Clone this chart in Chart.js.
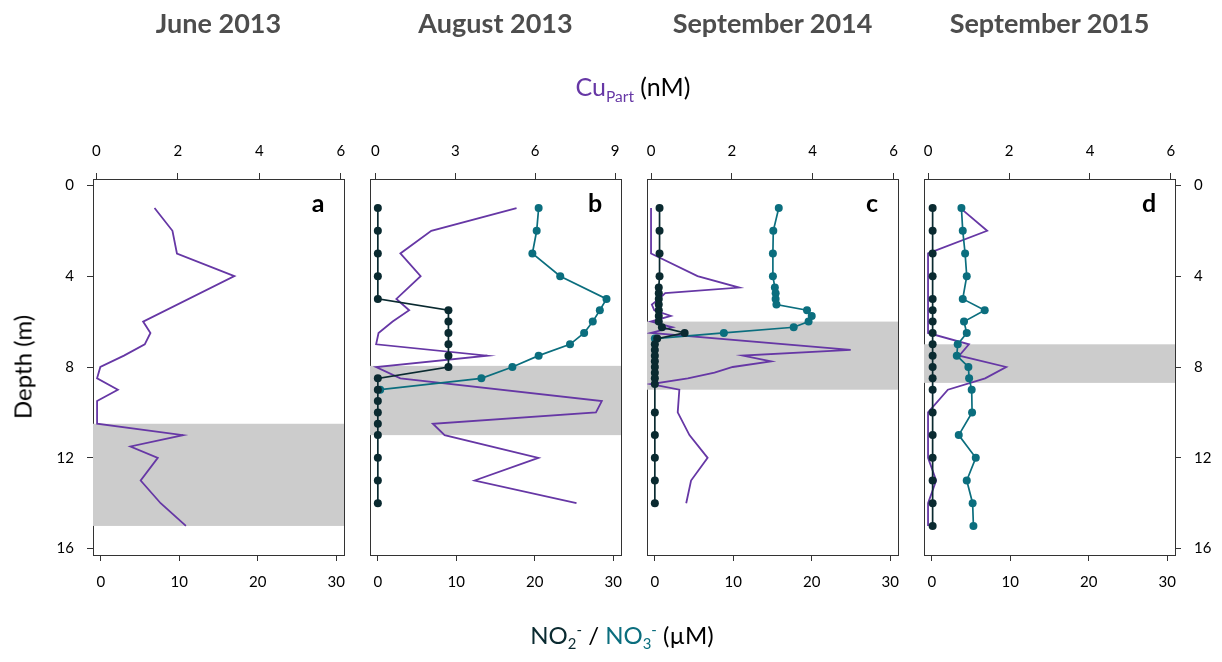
<!DOCTYPE html>
<html>
<head>
<meta charset="utf-8">
<script src="https://cdn.jsdelivr.net/npm/chart.js@4"></script>
<style>
    body { margin: 0; background: #fff; }
    #wrap { position: relative; width: 1222px; height: 662px; overflow: hidden; font-family: Lato, "Open Sans", sans-serif; }
    canvas { position: absolute; top: 0; }
    .lbl { position: absolute; transform: translate(-50%, -50%); white-space: nowrap; color: #000; }
    .title { font-weight: bold; font-size: 27px; color: #4d4d4d; top: 22px; }
    .letter { font-weight: bold; font-size: 25px; top: 202px; }
    .axt { font-size: 24px; }
    .cu { font-size: 25px; }
    .sb { font-size: 62%; vertical-align: -0.35em; }
    .sp { font-size: 62%; vertical-align: 0.6em; }
</style>
</head>
<body>
<div id="wrap"></div>
<script>
// ========================================
// DATA
// ========================================
const panelTitles = ["June 2013", "August 2013", "September 2014", "September 2015"];
const panelLetters = ["a", "b", "c", "d"];

const depthTicks = [0, 4, 8, 12, 16];
const nutrientTicks = [0, 10, 20, 30];
const cuTicks6 = [0, 2, 4, 6];
const cuTicks9 = [0, 3, 6, 9];

// shaded layer (m)
const shadeTop = [10.5, 7.95, 6, 7];
const shadeBottom = [15, 11, 9, 8.7];

// --- a : June 2013 (Cu only)
const cuDepthA = [1, 2, 3, 4, 6, 6.5, 7, 7.5, 8, 8.5, 9, 9.5, 10, 10.5, 11, 11.5, 12, 13, 14, 15];
const cuA = [1.43, 1.87, 1.98, 3.39, 1.15, 1.33, 1.19, 0.68, 0.1, 0.02, 0.53, 0.02, 0.02, 0.02, 2.13, 0.84, 1.51, 1.09, 1.58, 2.2];

// --- b : August 2013
const no2DepthB = [1, 2, 3, 4, 5, 5.5, 6, 6.5, 7, 7.5, 8, 8.5, 9, 9.5, 10, 10.5, 11, 12, 13, 14];
const no2B = [0, 0, 0, 0, 0, 9, 9, 9, 9, 9, 9, 0, 0, 0, 0, 0, 0, 0, 0, 0];
const no3DepthB = [1, 2, 3, 4, 5, 5.5, 6, 6.5, 7, 7.5, 8, 8.5, 9];
const no3B = [20.5, 20.25, 19.7, 23.25, 29.15, 28.3, 27.4, 26.3, 24.5, 20.5, 17.15, 13.2, 0.3];
const cuDepthB = [1, 2, 3, 4, 5, 5.5, 6, 6.5, 7, 7.5, 8, 8.5, 9.5, 10, 10.5, 11, 12, 13, 14];
const cuB = [5.3, 2.1, 0.94, 1.7, 0.79, 1.27, 0.65, 0.12, 0.03, 4.2, 0.03, 0.94, 8.5, 8.28, 2.16, 2.6, 6.12, 3.73, 7.55];

// --- c : September 2014
const no2DepthC = [1, 2, 3, 4, 4.5, 4.75, 5, 5.25, 5.5, 5.75, 6, 6.25, 6.5, 6.75, 7, 7.25, 7.5, 7.75, 8, 8.25, 8.5, 8.75, 10, 11, 12, 13, 14];
const no2C = [0.6, 0.6, 0.6, 0.6, 0.5, 0.5, 0.5, 0.5, 0.5, 0.5, 0.5, 0.9, 3.8, 0.3, 0, 0, 0, 0, 0, 0, 0, 0, 0, 0, 0, 0, 0];
const no3DepthC = [1, 2, 3, 4, 4.5, 4.75, 5, 5.25, 5.5, 5.75, 6, 6.25, 6.5, 6.75];
const no3C = [15.8, 15.1, 15.05, 15.05, 15.3, 15.4, 15.4, 15.5, 19.4, 20.0, 19.6, 17.7, 8.8, 0];
const cuDepthC = [1, 2, 3, 4, 4.5, 4.75, 5, 5.25, 5.5, 5.75, 6, 6.25, 6.5, 7.25, 7.5, 7.75, 8, 8.25, 8.5, 8.75, 9, 10, 11, 12, 13, 14];
const cuC = [0, 0, 0, 1.15, 2.18, 0.35, 0.2, 0.02, 0.08, 0.49, 0, 0.53, 0, 4.94, 2.27, 2.97, 2.02, 1.57, 0.91, 0, 0.7, 0.66, 0.95, 1.4, 0.99, 0.87];

// --- d : September 2015
const depthD = [1, 2, 3, 4, 5, 5.5, 6, 6.5, 7, 7.5, 8, 8.5, 9, 10, 11, 12, 13, 14, 15];
const no2D = [0.1, 0.1, 0.1, 0.1, 0.1, 0.1, 0.1, 0.1, 0.1, 0.1, 0.1, 0.1, 0.1, 0.1, 0.1, 0.1, 0.1, 0.1, 0.1];
const no3D = [3.77, 3.94, 4.24, 4.45, 3.94, 6.74, 4.1, 4.45, 3.3, 3.18, 4.66, 4.75, 5.08, 5.13, 3.43, 5.6, 4.45, 5.2, 5.3];
const cuD = [0.8, 1.46, 0, 0, 0, 0, 0, 0, 1.01, 0.77, 1.93, 1.41, 0.49, 0, 0, 0, 0.2, 0, 0];

// ========================================
// STYLE / LAYOUT
// ========================================
const PURPLE = "#6637a5";
const TEAL = "#0b6e7e";
const DARK = "#0a2a30";
const AXIS = "#333333";

const boxLeft = [93, 370, 647, 924];
const BOX_W = 251;
const BOX_TOP = 179;
const BOX_BOTTOM = 555;
const H = 662;
const SIDE = 70;

const panels = [
    { cu: [cuDepthA, cuA], no2: null, no3: null, cuTicks: cuTicks6, cuMin: -0.08, cuMax: 6.08 },
    { cu: [cuDepthB, cuB], no2: [no2DepthB, no2B], no3: [no3DepthB, no3B], cuTicks: cuTicks9, cuMin: -0.2, cuMax: 9.22 },
    { cu: [cuDepthC, cuC], no2: [no2DepthC, no2C], no3: [no3DepthC, no3C], cuTicks: cuTicks6, cuMin: -0.1, cuMax: 6.11 },
    { cu: [depthD, cuD], no2: [depthD, no2D], no3: [depthD, no3D], cuTicks: cuTicks6, cuMin: -0.1, cuMax: 6.1 }
];

function pts(depths, vals) {
    return depths.map((d, i) => ({ x: vals[i], y: d }));
}

// gray band behind the profiles
const shadePlugin = {
    id: "shade",
    beforeDatasetsDraw(chart, args, opts) {
        const { ctx, chartArea } = chart;
        const y = chart.scales.y;
        const y1 = y.getPixelForValue(opts.from);
        const y2 = y.getPixelForValue(opts.to);
        ctx.save();
        ctx.fillStyle = "#cccccc";
        ctx.fillRect(chartArea.left, y1, chartArea.right - chartArea.left, y2 - y1);
        ctx.restore();
    }
};

const wrap = document.getElementById("wrap");

function label(html, cls, x, y, extra) {
    const el = document.createElement("div");
    el.className = "lbl " + cls;
    el.innerHTML = html;
    el.style.left = x + "px";
    if (y !== null) el.style.top = y + "px";
    if (extra) Object.assign(el.style, extra);
    wrap.appendChild(el);
}

const tickFont = { family: "Lato", size: 15 };

panels.forEach((p, i) => {
    const canvas = document.createElement("canvas");
    canvas.width = BOX_W + 2 * SIDE;
    canvas.height = H;
    canvas.style.left = (boxLeft[i] - SIDE) + "px";
    wrap.appendChild(canvas);

    const datasets = [];
    if (p.no2) datasets.push({
        data: pts(p.no2[0], p.no2[1]), xAxisID: "x", yAxisID: "y",
        showLine: true, borderColor: DARK, backgroundColor: DARK, borderWidth: 1.7,
        pointRadius: 4, pointBorderWidth: 0
    });
    if (p.no3) datasets.push({
        data: pts(p.no3[0], p.no3[1]), xAxisID: "x", yAxisID: "y",
        showLine: true, borderColor: TEAL, backgroundColor: TEAL, borderWidth: 1.7,
        pointRadius: 4, pointBorderWidth: 0
    });
    datasets.push({
        data: pts(p.cu[0], p.cu[1]), xAxisID: "xTop", yAxisID: "y",
        showLine: true, borderColor: PURPLE, backgroundColor: PURPLE, borderWidth: 1.8,
        pointRadius: 0
    });

    const yAxis = (pos, show) => ({
        type: "linear", position: pos, reverse: true, min: -0.28, max: 16.28,
        afterBuildTicks: s => { s.ticks = depthTicks.map(v => ({ value: v })); },
        afterFit: s => { s.width = SIDE; },
        grid: { display: show, drawOnChartArea: false, tickLength: 6, color: AXIS },
        border: { display: true, color: AXIS, width: 1 },
        ticks: { display: show, padding: 13, font: tickFont, color: "#000" }
    });

    new Chart(canvas.getContext("2d"), {
        type: "scatter",
        data: { datasets },
        plugins: [shadePlugin],
        options: {
            responsive: false,
            animation: false,
            devicePixelRatio: 1,
            layout: { padding: 0 },
            plugins: {
                legend: { display: false },
                tooltip: { enabled: false },
                shade: { from: shadeTop[i], to: shadeBottom[i] }
            },
            scales: {
                xTop: {
                    type: "linear", position: "top", min: p.cuMin, max: p.cuMax,
                    afterBuildTicks: s => { s.ticks = p.cuTicks.map(v => ({ value: v })); },
                    afterFit: s => { s.height = BOX_TOP; },
                    grid: { drawOnChartArea: false, tickLength: 6, color: AXIS },
                    border: { color: AXIS, width: 1 },
                    ticks: { padding: 13, font: tickFont, color: "#000", maxRotation: 0 }
                },
                x: {
                    type: "linear", position: "bottom", min: -1, max: 31,
                    afterBuildTicks: s => { s.ticks = nutrientTicks.map(v => ({ value: v })); },
                    afterFit: s => { s.height = H - BOX_BOTTOM; },
                    grid: { drawOnChartArea: false, tickLength: 6, color: AXIS },
                    border: { color: AXIS, width: 1 },
                    ticks: { padding: 12, font: tickFont, color: "#000", maxRotation: 0 }
                },
                y: yAxis("left", i === 0),
                yR: yAxis("right", i === 3)
            }
        }
    });

    const cx = boxLeft[i] + BOX_W / 2;
    label(panelTitles[i], "title", cx, null);
    label(panelLetters[i], "letter", boxLeft[i] + BOX_W - 26, null);
});

// axis titles
label('<span style="color:' + PURPLE + '">Cu<span class="sb">Part</span></span> (nM)', "cu", 633, 88);
label('<span style="color:' + DARK + '">NO<span class="sb">2</span><span class="sp">-</span></span> / ' +
      '<span style="color:' + TEAL + '">NO<span class="sb">3</span><span class="sp">-</span></span> (µM)', "axt", 622, 636);
label("Depth (m)", "axt", 22, 367, { transform: "translate(-50%, -50%) rotate(-90deg)" });
</script>
</body>
</html>
